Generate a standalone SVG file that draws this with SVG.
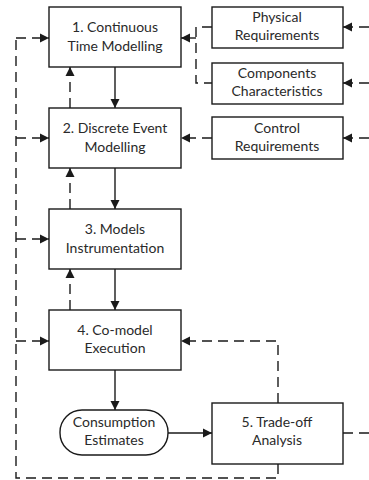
<svg xmlns="http://www.w3.org/2000/svg" width="369" height="480" viewBox="0 0 369 480">
<defs>
<marker id="ah" markerUnits="userSpaceOnUse" markerWidth="10" markerHeight="10" refX="9" refY="5" orient="auto">
<path d="M0,0.5 L9,5 L0,9.5 Z" fill="#1a1a1a"/>
</marker>
<style>
rect.b{fill:#fff;stroke:#1a1a1a;stroke-width:1.4}
text{font-family:Lato,"Open Sans",sans-serif;font-size:14px;fill:#2a2a2a;text-anchor:middle}
.s{fill:none;stroke:#1a1a1a;stroke-width:1.4}
.d{fill:none;stroke:#1a1a1a;stroke-width:1.4;stroke-dasharray:10,6}
.a{marker-end:url(#ah)}
</style>
</defs>
<rect width="369" height="480" fill="#fff"/>
<g id="connectors">
<path class="s a" d="M115,67 V108"/>
<path class="s a" d="M115,168 V209"/>
<path class="s a" d="M115,269 V310"/>
<path class="s a" d="M115,370 V410"/>
<path class="s a" d="M168,433 H212"/>
<path class="d a" d="M70,108 V67"/>
<path class="d a" d="M70,209 V168"/>
<path class="d a" d="M70,310 V269"/>
<path class="d" d="M278,464 V478 H16 V38"/>
<path class="d a" d="M16,38 H49"/>
<path class="d a" d="M16,138 H49"/>
<path class="d a" d="M16,239 H49"/>
<path class="d a" d="M16,341 H49"/>
<path class="d a" d="M278,403 V341 H181"/>
<path class="d" d="M343,433 H369"/>
<path class="d a" d="M369,27 H343"/>
<path class="d a" d="M369,83 H343"/>
<path class="d a" d="M369,138 H343"/>
<path class="d" d="M212,27 H196 V83 H212"/>
<path class="s a" d="M196,38 H181"/>
<path class="d a" d="M212,138 H181"/>
</g>
<g id="n1"><rect class="b" x="49" y="7" width="132" height="60"/><text x="115" y="32">1. Continuous</text><text x="115" y="51">Time Modelling</text></g>
<g id="n2"><rect class="b" x="49" y="108" width="132" height="60"/><text x="115" y="133">2. Discrete Event</text><text x="115" y="152">Modelling</text></g>
<g id="n3"><rect class="b" x="49" y="209" width="132" height="60"/><text x="115" y="234">3. Models</text><text x="115" y="253">Instrumentation</text></g>
<g id="n4"><rect class="b" x="49" y="310" width="132" height="60"/><text x="115" y="335">4. Co-model</text><text x="115" y="353">Execution</text></g>
<g id="n5"><rect class="b" x="60" y="410" width="108" height="45" rx="22" ry="22"/><text x="114" y="427">Consumption</text><text x="114" y="445">Estimates</text></g>
<g id="n6"><rect class="b" x="212" y="403" width="131" height="61"/><text x="277" y="427">5. Trade-off</text><text x="277" y="445">Analysis</text></g>
<g id="n7"><rect class="b" x="212" y="7" width="131" height="41"/><text x="277" y="22">Physical</text><text x="277" y="40">Requirements</text></g>
<g id="n8"><rect class="b" x="212" y="63" width="131" height="41"/><text x="277" y="78">Components</text><text x="277" y="96">Characteristics</text></g>
<g id="n9"><rect class="b" x="212" y="117" width="131" height="42"/><text x="277" y="133">Control</text><text x="277" y="151">Requirements</text></g>
</svg>
